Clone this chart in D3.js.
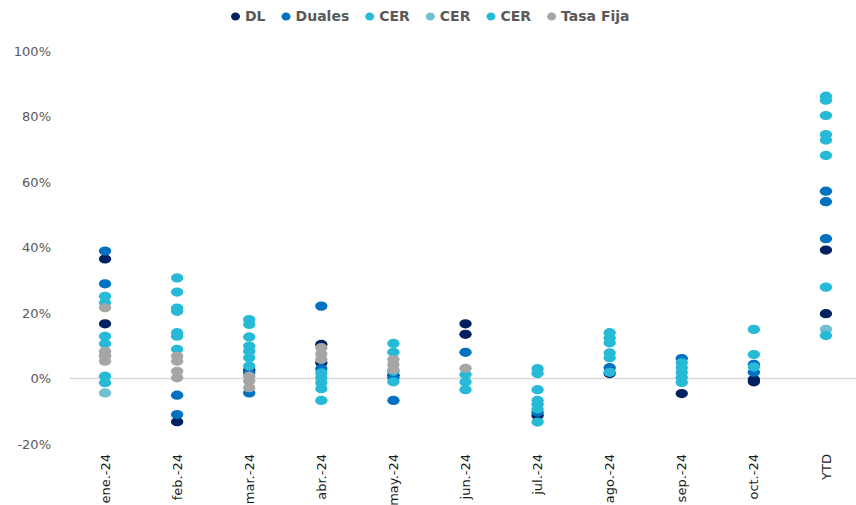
<!DOCTYPE html>
<html>
<head>
<meta charset="utf-8">
<script src="https://cdn.jsdelivr.net/npm/d3@7"></script>
<style>
  html, body { margin:0; padding:0; background:#fff; }
  svg { display:block; font-family:"DejaVu Sans", sans-serif; }
</style>
</head>
<body>
<div id="chart"></div>
<script>
// ====== données (en %)
const CATEGORIES = ["ene.-24","feb.-24","mar.-24","abr.-24","may.-24","jun.-24","jul.-24","ago.-24","sep.-24","oct.-24","YTD"];
const Y_TICKS = [-20, 0, 20, 40, 60, 80, 100];

const DL = [[36.5,16.7],[-13.2],[2.5],[10.4,4.8],[1.0],[16.7,13.5],[-11.3],[1.5],[-4.6],[-0.3,-1.0],[39.2,19.8]];
const DUALES = [[38.9,28.9],[-5.1,-11.0],[1.7,-4.4],[22.1,3.0],[0.2,-6.7],[8.0],[-10.3],[3.3],[6.1],[4.3,1.9],[57.2,54.0,42.7]];
const CER_1 = [[25.1,12.9,7.0,0.7],[30.7,21.5,14.0,8.9],[18.0,12.7,8.3,3.8],[1.7,-1.3,-6.7],[10.7,2.2],[1.2,-3.4],[3.0,-3.4,-7.9],[14.0,10.9,6.3],[4.8,1.8,-1.2],[15.0,3.5],[86.2,80.3,72.8,27.9]];
const CER_2 = [[-4.4],[],[],[],[],[],[],[],[],[],[15.0]];
const CER_3 = [[23.1,10.6,-1.3],[26.4,20.5,12.9],[16.5,9.9,6.3],[0.2,-3.1],[8.0,-1.0],[-1.1],[1.5,-6.7,-9.3,-13.3],[12.4,7.8,1.9],[3.3,0.3],[7.3],[85.0,74.5,68.1,13.1]];
const TASA_FIJA = [[21.6,8.3,6.8,5.3],[6.8,5.3,2.2,0.2],[0.7,-0.8,-2.8],[9.4,7.5,5.8],[5.8,4.2,2.7],[3.1],[],[],[],[],[]];

const SERIES_NAMES  = ["DL","Duales","CER","CER","CER","Tasa Fija"];
const SERIES_VALUES = [DL, DUALES, CER_1, CER_2, CER_3, TASA_FIJA];
const SERIES_COLORS = ["#002060","#0070C0","#27BAD6","#70BFD2","#27BAD6","#A6A6A6"];

// ====== dimensions
const W = 856, H = 505;
const X0 = 69, X1 = 862, Y_TOP = 51, Y_BOT = 444;

const svg = d3.select("#chart").append("svg")
  .attr("width", W).attr("height", H);

const x = d3.scalePoint().domain(CATEGORIES).range([X0, X1]).padding(0.5);
const y = d3.scaleLinear().domain([-20, 100]).range([Y_BOT, Y_TOP]);

// axe y (texte seul)
svg.append("g")
  .attr("transform", `translate(51,0)`)
  .call(d3.axisLeft(y).tickValues(Y_TICKS).tickSize(0).tickPadding(0).tickFormat(d => d + "%"))
  .call(g => g.select(".domain").remove())
  .selectAll("text")
    .attr("fill", "#595959")
    .style("font-size", "13px")
    .style("font-family", "'DejaVu Sans', sans-serif");

// ligne du zéro
svg.append("line")
  .attr("x1", 70).attr("x2", W)
  .attr("y1", y(0)).attr("y2", y(0))
  .attr("stroke", "#D9D9D9").attr("stroke-width", 1.5);

// étiquettes x verticales
svg.append("g").selectAll("text")
  .data(CATEGORIES)
  .join("text")
    .attr("transform", d => `translate(${x(d)},454) rotate(-90)`)
    .attr("text-anchor", "end")
    .attr("dy", "0.35em")
    .attr("fill", "#1a1a1a")
    .style("font-size", "13px")
    .text(d => d);

// points
SERIES_VALUES.forEach((vals, si) => {
  const pts = [];
  vals.forEach((arr, ci) => arr.forEach(v => pts.push({cat: CATEGORIES[ci], v})));
  svg.append("g").selectAll("ellipse")
    .data(pts)
    .join("ellipse")
      .attr("cx", d => x(d.cat))
      .attr("cy", d => y(d.v))
      .attr("rx", 6.2).attr("ry", 4.6)
      .attr("fill", SERIES_COLORS[si]);
});

// légende
const leg = svg.append("g").attr("transform", "translate(0,16)");
let lx = 231;
SERIES_NAMES.forEach((name, i) => {
  const g = leg.append("g").attr("transform", `translate(${lx},0)`);
  g.append("ellipse").attr("cx", 4.5).attr("cy", 0.5).attr("rx", 4.5).attr("ry", 4).attr("fill", SERIES_COLORS[i]);
  const t = g.append("text")
    .attr("x", 14).attr("dy", "0.35em")
    .attr("fill", "#595959")
    .style("font-size", "14px").style("font-weight", "bold")
    .text(name);
  lx += 14 + t.node().getComputedTextLength() + 16;
});
</script>
</body>
</html>
